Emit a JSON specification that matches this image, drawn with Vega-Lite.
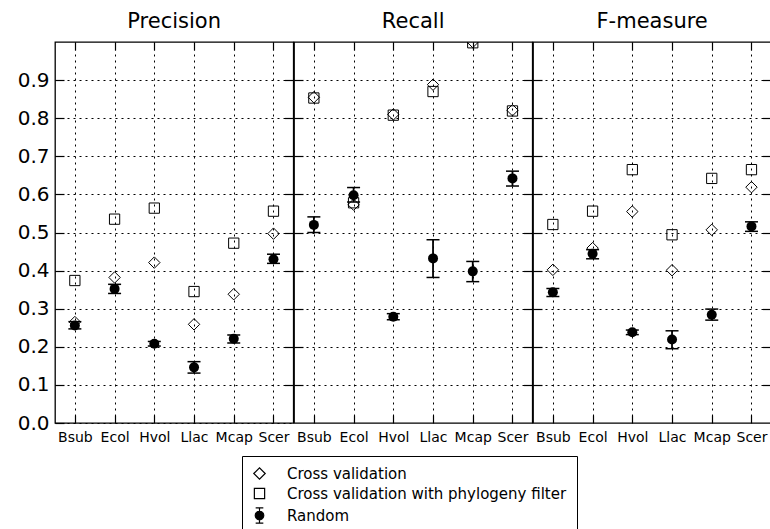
{
  "$schema": "https://vega.github.io/schema/vega-lite/v6.json",
  "padding": {"left": 16, "top": 10, "right": 0, "bottom": 0},
  "bounds": "flush",
  "config": {
    "font": "DejaVu Sans",
    "view": {"stroke": "black", "strokeWidth": 1.3},
    "concat": {"spacing": 0},
    "axis": {"domain": false, "tickColor": "black", "tickWidth": 1.2, "labelColor": "black", "title": null, "gridColor": "black", "gridOpacity": 1, "gridDash": [2, 4], "gridWidth": 1}
  },
  "data": {"values": [
    {"metric": "Precision", "species": "Bsub", "series": "Cross validation", "value": 0.265},
    {"metric": "Precision", "species": "Bsub", "series": "Cross validation with phylogeny filter", "value": 0.374},
    {"metric": "Precision", "species": "Bsub", "series": "Random", "value": 0.256, "lo": 0.247, "hi": 0.266},
    {"metric": "Precision", "species": "Ecol", "series": "Cross validation", "value": 0.382},
    {"metric": "Precision", "species": "Ecol", "series": "Cross validation with phylogeny filter", "value": 0.535},
    {"metric": "Precision", "species": "Ecol", "series": "Random", "value": 0.352, "lo": 0.340, "hi": 0.364},
    {"metric": "Precision", "species": "Hvol", "series": "Cross validation", "value": 0.421},
    {"metric": "Precision", "species": "Hvol", "series": "Cross validation with phylogeny filter", "value": 0.564},
    {"metric": "Precision", "species": "Hvol", "series": "Random", "value": 0.208, "lo": 0.202, "hi": 0.214},
    {"metric": "Precision", "species": "Llac", "series": "Cross validation", "value": 0.259},
    {"metric": "Precision", "species": "Llac", "series": "Cross validation with phylogeny filter", "value": 0.345},
    {"metric": "Precision", "species": "Llac", "series": "Random", "value": 0.146, "lo": 0.131, "hi": 0.161},
    {"metric": "Precision", "species": "Mcap", "series": "Cross validation", "value": 0.338},
    {"metric": "Precision", "species": "Mcap", "series": "Cross validation with phylogeny filter", "value": 0.472},
    {"metric": "Precision", "species": "Mcap", "series": "Random", "value": 0.221, "lo": 0.210, "hi": 0.231},
    {"metric": "Precision", "species": "Scer", "series": "Cross validation", "value": 0.497},
    {"metric": "Precision", "species": "Scer", "series": "Cross validation with phylogeny filter", "value": 0.556},
    {"metric": "Precision", "species": "Scer", "series": "Random", "value": 0.430, "lo": 0.419, "hi": 0.443},
    {"metric": "Recall", "species": "Bsub", "series": "Cross validation", "value": 0.855},
    {"metric": "Recall", "species": "Bsub", "series": "Cross validation with phylogeny filter", "value": 0.853},
    {"metric": "Recall", "species": "Bsub", "series": "Random", "value": 0.520, "lo": 0.500, "hi": 0.541},
    {"metric": "Recall", "species": "Ecol", "series": "Cross validation", "value": 0.573},
    {"metric": "Recall", "species": "Ecol", "series": "Cross validation with phylogeny filter", "value": 0.578},
    {"metric": "Recall", "species": "Ecol", "series": "Random", "value": 0.598, "lo": 0.580, "hi": 0.618},
    {"metric": "Recall", "species": "Hvol", "series": "Cross validation", "value": 0.810},
    {"metric": "Recall", "species": "Hvol", "series": "Cross validation with phylogeny filter", "value": 0.808},
    {"metric": "Recall", "species": "Hvol", "series": "Random", "value": 0.279, "lo": 0.271, "hi": 0.287},
    {"metric": "Recall", "species": "Llac", "series": "Cross validation", "value": 0.888},
    {"metric": "Recall", "species": "Llac", "series": "Cross validation with phylogeny filter", "value": 0.870},
    {"metric": "Recall", "species": "Llac", "series": "Random", "value": 0.432, "lo": 0.382, "hi": 0.481},
    {"metric": "Recall", "species": "Mcap", "series": "Cross validation", "value": 1.0},
    {"metric": "Recall", "species": "Mcap", "series": "Cross validation with phylogeny filter", "value": 0.998},
    {"metric": "Recall", "species": "Mcap", "series": "Random", "value": 0.398, "lo": 0.371, "hi": 0.424},
    {"metric": "Recall", "species": "Scer", "series": "Cross validation", "value": 0.821},
    {"metric": "Recall", "species": "Scer", "series": "Cross validation with phylogeny filter", "value": 0.819},
    {"metric": "Recall", "species": "Scer", "series": "Random", "value": 0.642, "lo": 0.622, "hi": 0.661},
    {"metric": "F-measure", "species": "Bsub", "series": "Cross validation", "value": 0.402},
    {"metric": "F-measure", "species": "Bsub", "series": "Cross validation with phylogeny filter", "value": 0.521},
    {"metric": "F-measure", "species": "Bsub", "series": "Random", "value": 0.343, "lo": 0.332, "hi": 0.353},
    {"metric": "F-measure", "species": "Ecol", "series": "Cross validation", "value": 0.459},
    {"metric": "F-measure", "species": "Ecol", "series": "Cross validation with phylogeny filter", "value": 0.556},
    {"metric": "F-measure", "species": "Ecol", "series": "Random", "value": 0.444, "lo": 0.431, "hi": 0.455},
    {"metric": "F-measure", "species": "Hvol", "series": "Cross validation", "value": 0.555},
    {"metric": "F-measure", "species": "Hvol", "series": "Cross validation with phylogeny filter", "value": 0.665},
    {"metric": "F-measure", "species": "Hvol", "series": "Random", "value": 0.238, "lo": 0.232, "hi": 0.244},
    {"metric": "F-measure", "species": "Llac", "series": "Cross validation", "value": 0.401},
    {"metric": "F-measure", "species": "Llac", "series": "Cross validation with phylogeny filter", "value": 0.494},
    {"metric": "F-measure", "species": "Llac", "series": "Random", "value": 0.219, "lo": 0.195, "hi": 0.242},
    {"metric": "F-measure", "species": "Mcap", "series": "Cross validation", "value": 0.507},
    {"metric": "F-measure", "species": "Mcap", "series": "Cross validation with phylogeny filter", "value": 0.642},
    {"metric": "F-measure", "species": "Mcap", "series": "Random", "value": 0.284, "lo": 0.270, "hi": 0.299},
    {"metric": "F-measure", "species": "Scer", "series": "Cross validation", "value": 0.619},
    {"metric": "F-measure", "species": "Scer", "series": "Cross validation with phylogeny filter", "value": 0.665},
    {"metric": "F-measure", "species": "Scer", "series": "Random", "value": 0.516, "lo": 0.503, "hi": 0.528}
  ]},
  "hconcat": [
    {
      "title": {"text": "Precision", "fontSize": 21, "fontWeight": "normal", "offset": 9, "color": "black"},
      "width": 238.33, "height": 381,
      "transform": [{"filter": "datum.metric === 'Precision'"}],
      "layer": [
        {"transform": [{"filter": "datum.series === 'Random'"}],
         "mark": {"type": "rule", "color": "black", "strokeWidth": 1.8},
         "encoding": {
           "x": {"field": "species", "type": "nominal", "scale": {"type": "point", "padding": 0.5}, "axis": {"orient": "bottom", "labelAngle": 0, "labelFontSize": 14, "tickSize": -8, "labelPadding": 15, "grid": true}},
           "y": {"field": "lo", "type": "quantitative", "scale": {"domain": [0, 1], "nice": false}, "axis": {"orient": "left", "values": [0, 0.1, 0.2, 0.3, 0.4, 0.5, 0.6, 0.7, 0.8, 0.9], "format": ".1f", "labelFontSize": 20, "tickSize": -9, "labelPadding": 15, "grid": true}},
           "y2": {"field": "hi"}}},
        {"transform": [{"filter": "datum.series === 'Random'"}],
         "mark": {"type": "tick", "color": "black", "size": 13, "thickness": 1.5, "opacity": 1},
         "encoding": {"x": {"field": "species", "type": "nominal", "axis": null}, "y": {"field": "lo", "type": "quantitative", "axis": null}}},
        {"transform": [{"filter": "datum.series === 'Random'"}],
         "mark": {"type": "tick", "color": "black", "size": 13, "thickness": 1.5, "opacity": 1},
         "encoding": {"x": {"field": "species", "type": "nominal", "axis": null}, "y": {"field": "hi", "type": "quantitative", "axis": null}}},
        {"transform": [{"filter": "datum.series === 'Random'"}],
         "mark": {"type": "point", "shape": "circle", "filled": true, "color": "black", "size": 100, "opacity": 1},
         "encoding": {"x": {"field": "species", "type": "nominal", "axis": null}, "y": {"field": "value", "type": "quantitative", "axis": null}}},
        {"transform": [{"filter": "datum.series !== 'Random'"}],
         "mark": {"type": "point", "filled": true, "stroke": "black", "strokeWidth": 1, "opacity": 1, "clip": true},
         "encoding": {
           "x": {"field": "species", "type": "nominal", "axis": {"orient": "top", "labels": false, "tickSize": -8, "grid": false}},
           "y": {"field": "value", "type": "quantitative", "axis": {"orient": "right", "labels": false, "tickSize": -9, "grid": false, "values": [0.1, 0.2, 0.3, 0.4, 0.5, 0.6, 0.7, 0.8, 0.9]}},
           "shape": {"field": "series", "type": "nominal", "scale": {"domain": ["Cross validation", "Cross validation with phylogeny filter", "Random"], "range": ["diamond", "square", "M-0.85,-1.7H0.85M0,-1.7V1.7M-0.85,1.7H0.85M0.95,0A0.95,0.95,0,1,1,-0.95,0A0.95,0.95,0,1,1,0.95,0Z"]},
             "legend": {"title": null, "orient": "none", "direction": "vertical", "legendX": 187, "legendY": 414, "labelFontSize": 15, "labelLimit": 500, "labelColor": "black", "strokeColor": "black", "fillColor": "white", "padding": 10, "rowPadding": 3, "labelOffset": 20, "symbolStrokeColor": "black", "symbolStrokeWidth": 1.2,
               "encoding": {"symbols": {"stroke": {"value": "black"}, "strokeWidth": {"value": 1.2}, "opacity": {"value": 1}}}}},
           "fill": {"field": "series", "type": "nominal", "scale": {"domain": ["Cross validation", "Cross validation with phylogeny filter", "Random"], "range": ["transparent", "transparent", "black"]},
             "legend": {"title": null, "orient": "none", "direction": "vertical", "legendX": 187, "legendY": 414, "labelFontSize": 15, "labelLimit": 500, "labelColor": "black", "strokeColor": "black", "fillColor": "white", "padding": 10, "rowPadding": 3, "labelOffset": 20, "symbolStrokeColor": "black", "symbolStrokeWidth": 1.2,
               "encoding": {"symbols": {"stroke": {"value": "black"}, "strokeWidth": {"value": 1.2}, "opacity": {"value": 1}}}}},
           "size": {"field": "series", "type": "nominal", "scale": {"domain": ["Cross validation", "Cross validation with phylogeny filter", "Random"], "range": [130, 81, 100]},
             "legend": {"title": null, "orient": "none", "direction": "vertical", "legendX": 187, "legendY": 414, "labelFontSize": 15, "labelLimit": 500, "labelColor": "black", "strokeColor": "black", "fillColor": "white", "padding": 10, "rowPadding": 3, "labelOffset": 20, "symbolStrokeColor": "black", "symbolStrokeWidth": 1.2,
               "encoding": {"symbols": {"stroke": {"value": "black"}, "strokeWidth": {"value": 1.2}, "opacity": {"value": 1}}}}}}}
      ],
      "resolve": {"axis": {"x": "independent", "y": "independent"}}
    },
    {
      "title": {"text": "Recall", "fontSize": 21, "fontWeight": "normal", "offset": 9, "color": "black"},
      "width": 238.33, "height": 381,
      "transform": [{"filter": "datum.metric === 'Recall'"}],
      "layer": [
        {"transform": [{"filter": "datum.series === 'Random'"}],
         "mark": {"type": "rule", "color": "black", "strokeWidth": 1.8},
         "encoding": {
           "x": {"field": "species", "type": "nominal", "scale": {"type": "point", "padding": 0.5}, "axis": {"orient": "bottom", "labelAngle": 0, "labelFontSize": 14, "tickSize": -8, "labelPadding": 15, "grid": true}},
           "y": {"field": "lo", "type": "quantitative", "scale": {"domain": [0, 1], "nice": false}, "axis": {"orient": "left", "values": [0.1, 0.2, 0.3, 0.4, 0.5, 0.6, 0.7, 0.8, 0.9], "labels": false, "tickSize": -9, "grid": true}},
           "y2": {"field": "hi"}}},
        {"transform": [{"filter": "datum.series === 'Random'"}],
         "mark": {"type": "tick", "color": "black", "size": 13, "thickness": 1.5, "opacity": 1},
         "encoding": {"x": {"field": "species", "type": "nominal", "axis": null}, "y": {"field": "lo", "type": "quantitative", "axis": null}}},
        {"transform": [{"filter": "datum.series === 'Random'"}],
         "mark": {"type": "tick", "color": "black", "size": 13, "thickness": 1.5, "opacity": 1},
         "encoding": {"x": {"field": "species", "type": "nominal", "axis": null}, "y": {"field": "hi", "type": "quantitative", "axis": null}}},
        {"transform": [{"filter": "datum.series === 'Random'"}],
         "mark": {"type": "point", "shape": "circle", "filled": true, "color": "black", "size": 100, "opacity": 1},
         "encoding": {"x": {"field": "species", "type": "nominal", "axis": null}, "y": {"field": "value", "type": "quantitative", "axis": null}}},
        {"transform": [{"filter": "datum.series !== 'Random'"}],
         "mark": {"type": "point", "filled": true, "stroke": "black", "strokeWidth": 1, "opacity": 1, "clip": true},
         "encoding": {
           "x": {"field": "species", "type": "nominal", "axis": {"orient": "top", "labels": false, "tickSize": -8, "grid": false}},
           "y": {"field": "value", "type": "quantitative", "axis": {"orient": "right", "labels": false, "tickSize": -9, "grid": false, "values": [0.1, 0.2, 0.3, 0.4, 0.5, 0.6, 0.7, 0.8, 0.9]}},
           "shape": {"field": "series", "type": "nominal", "scale": {"domain": ["Cross validation", "Cross validation with phylogeny filter", "Random"]}},
           "fill": {"field": "series", "type": "nominal", "scale": {"domain": ["Cross validation", "Cross validation with phylogeny filter", "Random"]}},
           "size": {"field": "series", "type": "nominal", "scale": {"domain": ["Cross validation", "Cross validation with phylogeny filter", "Random"]}}}}
      ],
      "resolve": {"axis": {"x": "independent", "y": "independent"}}
    },
    {
      "title": {"text": "F-measure", "fontSize": 21, "fontWeight": "normal", "offset": 9, "color": "black"},
      "width": 238.33, "height": 381,
      "transform": [{"filter": "datum.metric === 'F-measure'"}],
      "layer": [
        {"transform": [{"filter": "datum.series === 'Random'"}],
         "mark": {"type": "rule", "color": "black", "strokeWidth": 1.8},
         "encoding": {
           "x": {"field": "species", "type": "nominal", "scale": {"type": "point", "padding": 0.5}, "axis": {"orient": "bottom", "labelAngle": 0, "labelFontSize": 14, "tickSize": -8, "labelPadding": 15, "grid": true}},
           "y": {"field": "lo", "type": "quantitative", "scale": {"domain": [0, 1], "nice": false}, "axis": {"orient": "left", "values": [0.1, 0.2, 0.3, 0.4, 0.5, 0.6, 0.7, 0.8, 0.9], "labels": false, "tickSize": -9, "grid": true}},
           "y2": {"field": "hi"}}},
        {"transform": [{"filter": "datum.series === 'Random'"}],
         "mark": {"type": "tick", "color": "black", "size": 13, "thickness": 1.5, "opacity": 1},
         "encoding": {"x": {"field": "species", "type": "nominal", "axis": null}, "y": {"field": "lo", "type": "quantitative", "axis": null}}},
        {"transform": [{"filter": "datum.series === 'Random'"}],
         "mark": {"type": "tick", "color": "black", "size": 13, "thickness": 1.5, "opacity": 1},
         "encoding": {"x": {"field": "species", "type": "nominal", "axis": null}, "y": {"field": "hi", "type": "quantitative", "axis": null}}},
        {"transform": [{"filter": "datum.series === 'Random'"}],
         "mark": {"type": "point", "shape": "circle", "filled": true, "color": "black", "size": 100, "opacity": 1},
         "encoding": {"x": {"field": "species", "type": "nominal", "axis": null}, "y": {"field": "value", "type": "quantitative", "axis": null}}},
        {"transform": [{"filter": "datum.series !== 'Random'"}],
         "mark": {"type": "point", "filled": true, "stroke": "black", "strokeWidth": 1, "opacity": 1, "clip": true},
         "encoding": {
           "x": {"field": "species", "type": "nominal", "axis": {"orient": "top", "labels": false, "tickSize": -8, "grid": false}},
           "y": {"field": "value", "type": "quantitative", "axis": {"orient": "right", "labels": false, "tickSize": -9, "grid": false, "values": [0.1, 0.2, 0.3, 0.4, 0.5, 0.6, 0.7, 0.8, 0.9]}},
           "shape": {"field": "series", "type": "nominal", "scale": {"domain": ["Cross validation", "Cross validation with phylogeny filter", "Random"]}},
           "fill": {"field": "series", "type": "nominal", "scale": {"domain": ["Cross validation", "Cross validation with phylogeny filter", "Random"]}},
           "size": {"field": "series", "type": "nominal", "scale": {"domain": ["Cross validation", "Cross validation with phylogeny filter", "Random"]}}}}
      ],
      "resolve": {"axis": {"x": "independent", "y": "independent"}}
    }
  ]
}
